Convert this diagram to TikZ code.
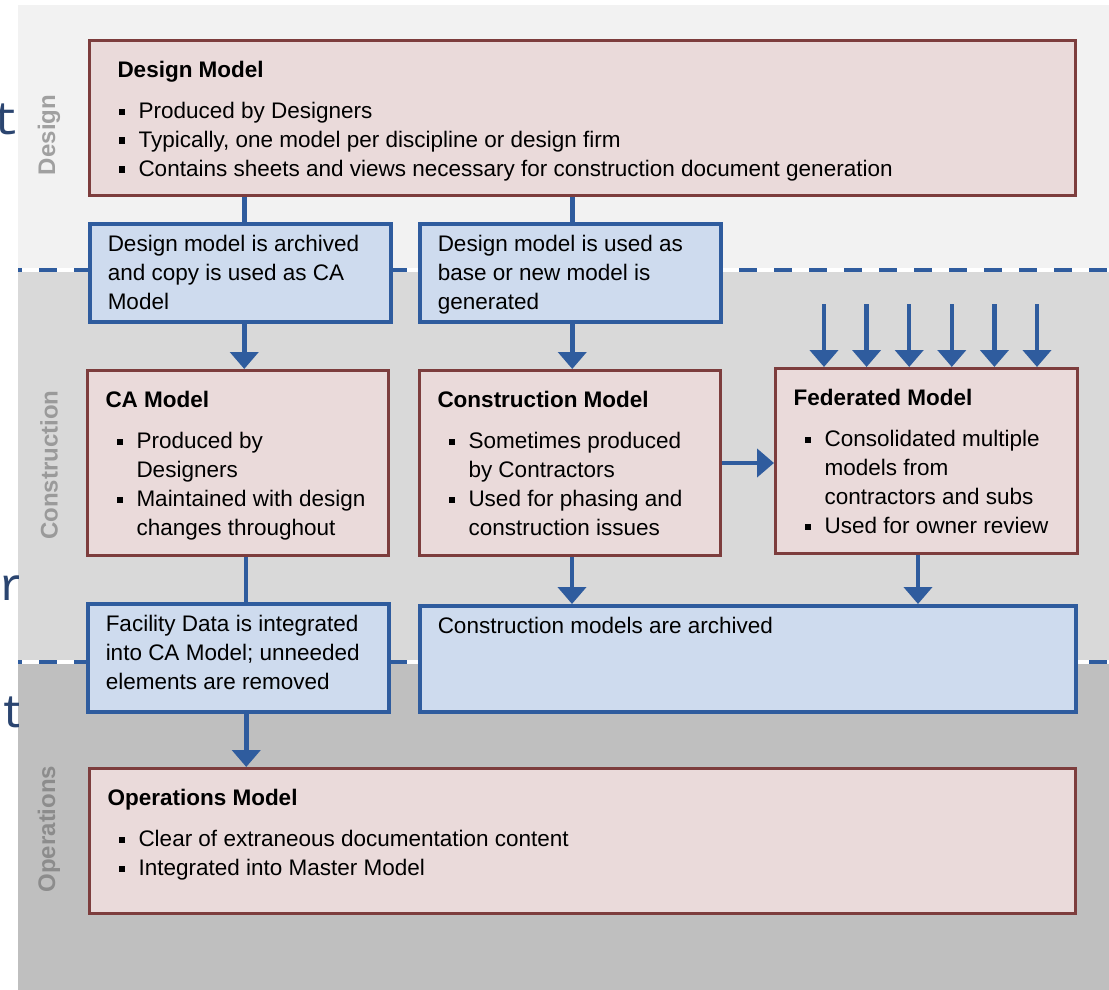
\documentclass[tikz,border=0pt]{standalone}
\usepackage{xcolor}
\usepackage{fontspec}
\setmainfont{Liberation Sans}
\newfontfamily\strayfont{Liberation Mono}
\usetikzlibrary{arrows.meta,positioning}

\definecolor{banddesign}{HTML}{F2F2F2}
\definecolor{bandconstr}{HTML}{D9D9D9}
\definecolor{bandops}{HTML}{BFBFBF}
\definecolor{modelfill}{HTML}{EADADA}
\definecolor{modeledge}{HTML}{7D3D3D}
\definecolor{stepfill}{HTML}{CEDBEE}
\definecolor{flowblue}{HTML}{2F5C9E}
\definecolor{labelgray}{HTML}{A0A0A0}
\definecolor{labelgraymid}{HTML}{9A9A9A}
\definecolor{labelgraydark}{HTML}{8C8C8C}
\definecolor{straytext}{HTML}{2B4570}

% bullet line with hanging indent
\newcommand{\bitem}[1]{\par\hangindent=31pt\hangafter=1\noindent\makebox[31pt][l]{\hspace{11pt}\rule[3.5pt]{6.5pt}{6.5pt}}#1}
% width, height, title, bullets
\newcommand{\modeltext}[4]{\parbox[c][#2][t]{#1}{\leftskip=18pt\rightskip=0pt plus 1fil\rule{0pt}{37pt}\textbf{#3}\par\vspace{12pt}#4\par}}
% width, height, text
\newcommand{\steptext}[3]{\parbox[c][#2][t]{#1}{\leftskip=18pt\rightskip=0pt plus 1fil\rule{0pt}{28pt}#3\par}}

\begin{document}
\begin{tikzpicture}[
x=1pt, y=-1pt,
model/.style={
draw=modeledge,
fill=modelfill,
line width=3pt,
inner sep=0pt,
anchor=north west,
font=\fontsize{22.5}{29}\selectfont
},
stepbox/.style={
draw=flowblue,
fill=stepfill,
line width=3.5pt,
inner sep=0pt,
anchor=north west,
font=\fontsize{22.5}{29}\selectfont
},
link/.style={
draw=flowblue,
line width=4.5pt
},
flow/.style={
link,
-{Triangle[width=28pt,length=17pt]}
},
sepline/.style={
draw=flowblue,
line width=4pt,
dash pattern=on 18pt off 17pt,
dash phase=14pt
},
bandlabel/.style={
rotate=90,
text=labelgray,
font=\fontsize{24}{28}\selectfont\bfseries
},
stray/.style={
text=straytext,
inner sep=0pt,
anchor=base west,
font=\fontsize{46}{50}\selectfont\strayfont
}
]
\useasboundingbox (0,0) rectangle (1109,990);
\fill[white] (0,0) rectangle (1109,990);

% Bands
\fill[banddesign] (18,5) rectangle (1109,270);
\fill[bandconstr] (18,270) rectangle (1109,662);
\fill[bandops] (18,662) rectangle (1109,990);
\draw[white, line width=4pt] (18,270) -- (1109,270);
\draw[sepline] (18,270) -- (1109,270);
\draw[white, line width=4pt] (18,662) -- (1109,662);
\draw[sepline] (18,662) -- (1109,662);

\node[bandlabel] (lbl-design) at (49,135) {Design};
\node[bandlabel, text=labelgraymid] (lbl-construction) at (49,465) {Construction};
\node[bandlabel, text=labelgraydark] (lbl-operations) at (49,829) {Operations};

% cut-off text on the left edge
\begin{scope}
\clip (0,0) rectangle (18,990);
\node[stray] (stray-a) at (-8,135) {t};
\node[stray] (stray-b) at (-29,600) {or};
\node[stray] (stray-c) at (0,727) {t};
\end{scope}

% Models
\node[model] (design) at (88,39) {\modeltext{986pt}{155pt}{\hspace*{10pt}Design Model}{%
\bitem{Produced by Designers}%
\bitem{Typically, one model per discipline or design firm}%
\bitem{Contains sheets and views necessary for construction document generation}}};
\node[stepbox] (archcopy) at (88,222) {\steptext{301pt}{98pt}{Design model is archived\\and copy is used as CA\\Model}};
\node[stepbox] (basenew) at (418,222) {\steptext{301pt}{98pt}{Design model is used as\\base or new model is\\generated}};
\node[model] (camodel) at (86,369) {\modeltext{301pt}{185pt}{CA Model}{%
\bitem{Produced by\\Designers}%
\bitem{Maintained with design\\changes throughout}}};
\node[model] (constr) at (418,369) {\modeltext{301pt}{185pt}{Construction Model}{%
\bitem{Sometimes produced\\by Contractors}%
\bitem{Used for phasing and\\construction issues}}};
\node[model] (federated) at (774,367) {\modeltext{302pt}{185pt}{Federated Model}{%
\bitem{Consolidated multiple\\models from\\contractors and subs}%
\bitem{Used for owner review}}};
\node[stepbox] (facility) at (86,602) {\steptext{301pt}{108pt}{Facility Data is integrated\\into CA Model; unneeded\\elements are removed}};
\node[stepbox] (archived) at (418,604) {\steptext{656pt}{106pt}{Construction models are archived}};
\node[model] (operations) at (88,767) {\modeltext{986pt}{145pt}{Operations Model}{%
\bitem{Clear of extraneous documentation content}%
\bitem{Integrated into Master Model}}};

% Connectors
\draw[link] ([xshift=4pt]archcopy.north |- design.south) -- ([xshift=4pt]archcopy.north);
\draw[link] ([xshift=2pt]basenew.north |- design.south) -- ([xshift=2pt]basenew.north);
\draw[flow] ([xshift=4pt]archcopy.south) -- ([xshift=4pt]archcopy.south |- camodel.north);
\draw[flow] ([xshift=2pt]basenew.south) -- ([xshift=2pt]basenew.south |- constr.north);
\draw[flow] (constr.east) -- (constr.east -| federated.west);
\draw[link] ([xshift=8pt]camodel.south) -- ([xshift=8pt]camodel.south |- facility.north);
\draw[flow] ([xshift=2pt]constr.south) -- ([xshift=2pt]constr.south |- archived.north);
\draw[flow] ([xshift=-8.5pt]federated.south) -- ([xshift=-8.5pt]federated.south |- archived.north);
\draw[flow] ([xshift=8pt]facility.south) -- ([xshift=8pt]facility.south |- operations.north);

% Inputs to the federated model
\foreach \k in {0,...,5} {
\coordinate (feed\k) at (824+42.6*\k,304);
\draw[flow] (feed\k) -- (feed\k |- federated.north);
}
\end{tikzpicture}
\end{document}
